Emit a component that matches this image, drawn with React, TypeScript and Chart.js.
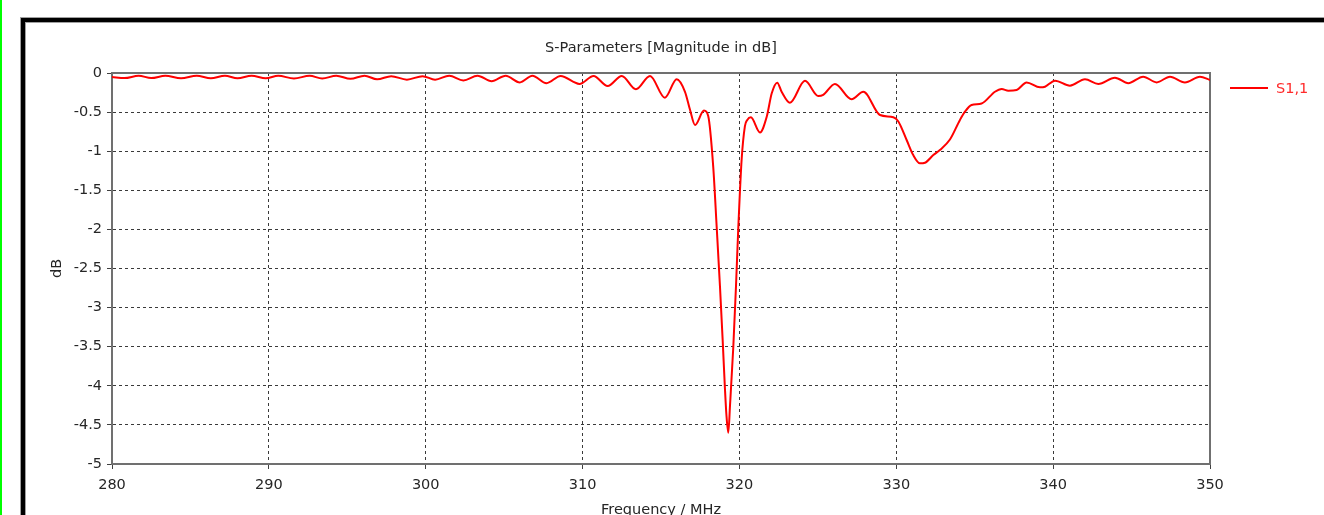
import React, { useEffect, useRef } from "react";
import { Chart, registerables } from "chart.js";

Chart.register(...registerables);

const W = 1324;
const H = 515;

const chartTitle = "S-Parameters [Magnitude in dB]";
const xAxisTitle = "Frequency / MHz";
const yAxisTitle = "dB";
const seriesName = "S1,1";

const freqMHz = [
  280.0, 280.8, 281.7, 282.5, 283.4, 284.4, 285.4, 286.3, 287.2, 288.0,
  288.9, 289.8, 290.6, 291.6, 292.6, 293.4, 294.3, 295.2, 296.1, 296.9,
  297.8, 298.8, 299.8, 300.6, 301.5, 302.4, 303.3, 304.2, 305.1, 306.0,
  306.8, 307.7, 308.6, 309.8, 310.7, 311.6, 312.5, 313.4, 314.3, 315.25,
  316.0, 316.53, 316.85, 317.17, 317.74, 318.01, 318.33, 318.55, 318.76, 318.93,
  319.08, 319.17, 319.29, 319.4, 319.61, 319.78, 319.93, 320.14, 320.35, 320.5,
  320.73, 321.31, 321.74, 322.06, 322.41, 322.69, 323.22, 324.18, 325.03, 325.34,
  326.09, 327.15, 327.9, 328.96, 329.81, 330.13, 330.66, 331.08, 331.51, 331.83,
  332.36, 332.78, 333.42, 334.06, 334.38, 334.8, 335.44, 336.29, 336.72, 337.14,
  337.67, 338.31, 339.16, 339.48, 340.12, 341.07, 342.03, 342.88, 343.94, 344.79,
  345.74, 346.6, 347.45, 348.4, 349.36, 350.0,
];

const s11dB = [
  -0.05, -0.065, -0.035, -0.065, -0.035, -0.068, -0.035, -0.068, -0.035, -0.068,
  -0.035, -0.068, -0.035, -0.07, -0.035, -0.07, -0.035, -0.075, -0.035, -0.08,
  -0.04, -0.085, -0.04, -0.085, -0.035, -0.095, -0.035, -0.105, -0.035, -0.12,
  -0.035, -0.13, -0.038, -0.14, -0.038, -0.166, -0.038, -0.208, -0.038, -0.316,
  -0.08, -0.24, -0.47, -0.665, -0.48, -0.55, -1.2, -1.97, -2.73, -3.41,
  -4.05, -4.37, -4.6, -4.25, -3.5, -2.73, -1.97, -1.11, -0.68, -0.6,
  -0.567, -0.76, -0.56, -0.26, -0.124, -0.24, -0.38, -0.1, -0.294, -0.28,
  -0.14, -0.336, -0.24, -0.537, -0.566, -0.62, -0.857, -1.05, -1.155, -1.147,
  -1.05, -0.985, -0.85, -0.6, -0.495, -0.41, -0.39, -0.24, -0.205, -0.226,
  -0.217, -0.12, -0.183, -0.175, -0.098, -0.162, -0.08, -0.14, -0.06, -0.13,
  -0.047, -0.12, -0.047, -0.12, -0.047, -0.09,
];

const xMin = 280;
const xMax = 350;
const xStep = 10;
const yMin = -5;
const yMax = 0;
const yStep = 0.5;

const FONT = "'DejaVu Sans', Verdana, sans-serif";
const TEXT = "#262626";
const AXIS = "#707070";
const GRID = "#3a3a3a";
const RED = "#ff0000";

const framePlugin = {
  id: "frame",
  beforeDraw(chart: any) {
    const ctx = chart.ctx;
    ctx.save();
    ctx.fillStyle = "#ffffff";
    ctx.fillRect(0, 0, W, H);
    ctx.fillStyle = "#00ff00";
    ctx.fillRect(0, 0, 2, H);
    ctx.fillStyle = "#a0a0a0";
    ctx.fillRect(20, 17, W - 20, 1);
    ctx.fillRect(20, 17, 1, H - 17);
    ctx.fillStyle = "#000000";
    ctx.fillRect(21, 18, W - 21, 4);
    ctx.fillRect(21, 18, 4, H - 18);
    ctx.fillStyle = "#a0a0a0";
    ctx.fillRect(25, 22, W - 25, 1);
    ctx.fillRect(25, 22, 1, H - 22);
    ctx.restore();
  },
  beforeDatasetsDraw(chart: any) {
    const { ctx, chartArea } = chart;
    ctx.save();
    ctx.strokeStyle = AXIS;
    ctx.lineWidth = 2;
    ctx.beginPath();
    ctx.moveTo(chartArea.left, chartArea.top);
    ctx.lineTo(chartArea.right, chartArea.top);
    ctx.lineTo(chartArea.right, chartArea.bottom);
    ctx.stroke();
    ctx.restore();
  },
  afterDraw(chart: any) {
    const { ctx, chartArea } = chart;
    const ds = chart.data.datasets[0];
    const x0 = chartArea.right + 20;
    const y0 = chartArea.top + 15;
    ctx.save();
    ctx.strokeStyle = ds.borderColor;
    ctx.lineWidth = 2;
    ctx.beginPath();
    ctx.moveTo(x0, y0);
    ctx.lineTo(x0 + 38, y0);
    ctx.stroke();
    ctx.fillStyle = "#ff2a2a";
    ctx.font = `14.5px ${FONT}`;
    ctx.textBaseline = "middle";
    ctx.textAlign = "left";
    ctx.fillText(ds.label, x0 + 46, y0 + 1);
    ctx.restore();
  },
};

const fmt = (v: any) => `${Math.round(Number(v) * 100) / 100}`;

export default function App() {
  const ref = useRef<HTMLCanvasElement | null>(null);

  useEffect(() => {
    const canvas = ref.current;
    if (!canvas) return;
    const points = freqMHz.map((f, i) => ({ x: f, y: s11dB[i] }));
    const edgeX = (c: any) =>
      c.tick && (c.tick.value === xMin || c.tick.value === xMax) ? "rgba(0,0,0,0)" : GRID;
    const edgeY = (c: any) =>
      c.tick && (c.tick.value === yMin || c.tick.value === yMax) ? "rgba(0,0,0,0)" : GRID;

    const chart = new Chart(canvas, {
      type: "line",
      data: {
        datasets: [
          {
            label: seriesName,
            data: points,
            borderColor: RED,
            borderWidth: 2,
            pointRadius: 0,
            cubicInterpolationMode: "monotone",
            fill: false,
          },
        ],
      },
      options: {
        animation: false,
        responsive: false,
        devicePixelRatio: 1,
        layout: { padding: { left: 0, right: 114, top: 0, bottom: 0 } },
        plugins: {
          legend: { display: false },
          tooltip: { enabled: false },
          title: {
            display: true,
            fullSize: false,
            text: chartTitle,
            color: TEXT,
            font: { family: FONT, size: 14.5, weight: "normal" },
            padding: { top: 39.3, bottom: 16.3 },
          },
        },
        scales: {
          x: {
            type: "linear",
            min: xMin,
            max: xMax,
            afterFit: (s: any) => {
              s.height = 51;
            },
            ticks: {
              stepSize: xStep,
              color: TEXT,
              padding: 8,
              maxRotation: 0,
              font: { family: FONT, size: 14.5 },
              callback: fmt,
            },
            grid: {
              color: edgeX,
              lineWidth: 1,
              tickColor: "#404040",
              tickLength: 5,
              tickWidth: 1,
            },
            border: { display: true, color: AXIS, width: 2, dash: [3, 3] },
            title: {
              display: true,
              text: xAxisTitle,
              color: TEXT,
              font: { family: FONT, size: 14.5 },
              padding: { top: 0, bottom: -4 },
            },
          },
          y: {
            type: "linear",
            min: yMin,
            max: yMax,
            afterFit: (s: any) => {
              s.width = 112;
            },
            ticks: {
              stepSize: yStep,
              color: TEXT,
              padding: 5,
              font: { family: FONT, size: 14.5 },
              callback: fmt,
            },
            grid: {
              color: edgeY,
              lineWidth: 1,
              tickColor: "#404040",
              tickLength: 5,
              tickWidth: 1,
            },
            border: { display: true, color: AXIS, width: 2, dash: [3, 3] },
            title: {
              display: true,
              text: yAxisTitle,
              color: TEXT,
              font: { family: FONT, size: 14.5 },
              padding: { top: 48.3, bottom: 0 },
            },
          },
        },
      },
      plugins: [framePlugin],
    });
    return () => chart.destroy();
  }, []);

  return (
    <div style={{ position: "fixed", left: 0, top: 0, width: W, height: H, background: "#fff" }}>
      <canvas ref={ref} width={W} height={H} style={{ display: "block", width: W, height: H }} />
    </div>
  );
}
